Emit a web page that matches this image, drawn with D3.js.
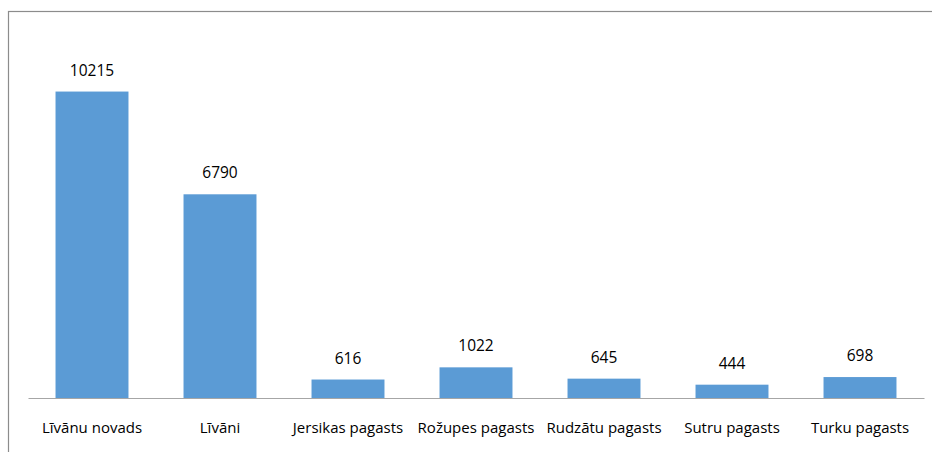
<!DOCTYPE html>
<html>
<head>
<meta charset="utf-8">
<script src="https://cdn.jsdelivr.net/npm/d3@7"></script>
<style>
  body { margin: 0; background: #fff; }
  text { font-family: "Open Sans", sans-serif; fill: #000; }
</style>
</head>
<body>
<div class="myChart"></div>
<script>
// categories and values
var categories = ["Līvānu novads", "Līvāni", "Jersikas pagasts", "Rožupes pagasts", "Rudzātu pagasts", "Sutru pagasts", "Turku pagasts"];
var values = [10215, 6790, 616, 1022, 645, 444, 698];

var width = 932;
var height = 452;
var margin = { top: 38, right: 8, bottom: 54, left: 28 };
var baseY = height - margin.bottom;

var svg = d3.select(".myChart").append("svg")
    .attr("width", width)
    .attr("height", height);

// outer frame
svg.append("rect")
    .attr("x", 8.5)
    .attr("y", 11.5)
    .attr("width", 1000)
    .attr("height", 1000)
    .attr("fill", "none")
    .attr("stroke", "#8c8c8c")
    .attr("stroke-width", 1.2);

var xScale = d3.scaleBand()
    .domain(categories)
    .range([margin.left, width - margin.right])
    .paddingInner(0.43)
    .paddingOuter(0.215);

var yScale = d3.scaleLinear()
    .domain([0, 12000])
    .range([baseY, margin.top]);

// bars
svg.selectAll("rect.bar")
    .data(values)
    .enter()
    .append("rect")
    .attr("class", "bar")
    .attr("fill", "#5b9bd5")
    .attr("x", function(d, i) { return xScale(categories[i]); })
    .attr("width", xScale.bandwidth())
    .attr("y", function(d) { return yScale(d); })
    .attr("height", function(d) { return baseY - yScale(d); });

// value labels
svg.selectAll("text.val")
    .data(values)
    .enter()
    .append("text")
    .attr("class", "val")
    .attr("text-anchor", "middle")
    .attr("font-size", "15.5px")
    .attr("x", function(d, i) { return xScale(categories[i]) + xScale.bandwidth() / 2; })
    .attr("y", function(d) { return yScale(d) - 16; })
    .text(function(d) { return d; });

// x axis
var xAxis = d3.axisBottom(xScale).tickSize(0).tickPadding(24);
var gx = svg.append("g")
    .attr("transform", "translate(0," + baseY + ")")
    .call(xAxis);
gx.select(".domain").attr("stroke", "#a6a6a6").attr("stroke-width", 1.2);
gx.selectAll("text")
    .attr("font-size", "15px")
    .attr("font-family", "'Open Sans', sans-serif")
    .attr("fill", "#000");
</script>
</body>
</html>
